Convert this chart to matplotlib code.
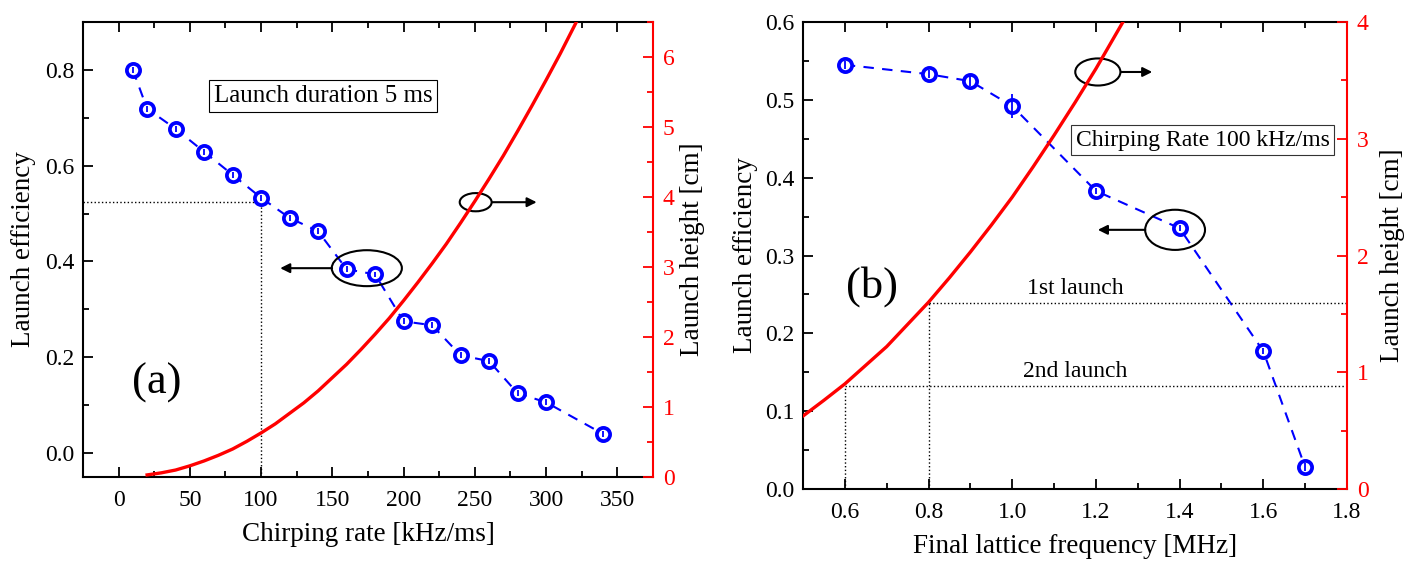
import numpy as np
import matplotlib
matplotlib.use("Agg")
from matplotlib import pyplot as plt
from matplotlib.patches import Ellipse
from matplotlib.ticker import MultipleLocator

plt.rcParams['font.family'] = ['Liberation Serif', 'DejaVu Serif']

# (a) launch efficiency vs chirping rate
chirp_rate = [10, 20, 40, 60, 80, 100, 120, 140, 160, 180, 200, 220, 240, 260, 280, 300, 340]
eff_a = [0.800, 0.719, 0.677, 0.629, 0.581, 0.533, 0.491, 0.463, 0.384, 0.373,
         0.275, 0.267, 0.204, 0.192, 0.125, 0.106, 0.040]
err_a = [0.006] * len(eff_a)
# (a) launch height curve
chirp_curve = [20, 30, 40, 50, 60, 70, 80, 90, 100, 110, 120, 130, 140, 150, 160, 170,
               180, 190, 200, 210, 220, 230, 240, 250, 260, 270, 280, 290, 300, 310,
               320, 330]
height_a = [0.03, 0.06, 0.10, 0.16, 0.23, 0.31, 0.40, 0.51, 0.63, 0.76, 0.91, 1.06,
            1.23, 1.42, 1.61, 1.82, 2.04, 2.27, 2.52, 2.78, 3.05, 3.33, 3.63, 3.94,
            4.26, 4.59, 4.94, 5.30, 5.67, 6.05, 6.45, 6.86]

# (b) launch efficiency vs final lattice frequency
freq = [0.6, 0.8, 0.9, 1.0, 1.2, 1.4, 1.6, 1.7]
eff_b = [0.545, 0.533, 0.524, 0.492, 0.383, 0.335, 0.177, 0.028]
err_b = [0.005, 0.005, 0.006, 0.015, 0.004, 0.004, 0.004, 0.005]
# (b) launch height curve
freq_curve = [0.5, 0.55, 0.6, 0.65, 0.7, 0.75, 0.8, 0.85, 0.9, 0.95, 1.0, 1.05, 1.1,
              1.15, 1.2, 1.25, 1.3]
height_b = [0.625, 0.76, 0.90, 1.06, 1.22, 1.41, 1.60, 1.81, 2.03, 2.26, 2.50, 2.76,
            3.03, 3.31, 3.60, 3.91, 4.22]

BLUE = '#0000ff'
RED = '#ff0000'


def style_axes(ax, ax2):
    for s in ['left', 'bottom', 'top']:
        ax.spines[s].set_linewidth(1.5)
    ax.spines['right'].set_visible(False)
    for s in ['left', 'bottom', 'top']:
        ax2.spines[s].set_visible(False)
    ax2.spines['right'].set_color(RED)
    ax2.spines['right'].set_linewidth(1.5)
    ax.tick_params(which='both', direction='in', top=True, right=False,
                   labelsize=17, width=1.3, pad=6)
    ax.tick_params(axis='x', which='both', pad=9.5)
    ax.tick_params(which='major', length=7)
    ax.tick_params(which='minor', length=4)
    ax2.tick_params(which='both', direction='in', colors=RED, labelsize=17,
                    width=1.3, pad=7)
    ax2.tick_params(which='major', length=7)
    ax2.tick_params(which='minor', length=4)


def plot_eff(ax, x, y, err):
    ax.plot(x, y, '--', color=BLUE, lw=1.5, dashes=(5, 4), zorder=3)
    ax.plot(x, y, 'o', ms=9.5, mfc='white', mec=BLUE, mew=2.7, zorder=4)
    ax.errorbar(x, y, yerr=err, fmt='none', ecolor=BLUE, elinewidth=1.3, zorder=5)


def mark(ax, cx, cy, w, h, x0, x1):
    ax.add_patch(Ellipse((cx, cy), w, h, transform=ax.transAxes, fill=False,
                         ec='k', lw=1.5, zorder=6))
    ax.annotate('', xy=(x1, cy), xytext=(x0, cy), xycoords='axes fraction',
                arrowprops=dict(arrowstyle='-|>', color='k', lw=1.5,
                                mutation_scale=14, shrinkA=0, shrinkB=0),
                zorder=6)


fig = plt.figure(figsize=(14.09, 5.63), dpi=100)

# ---- panel (a)
ax = fig.add_axes([0.0589, 0.1527, 0.4045, 0.8082])
ax2 = ax.twinx()
style_axes(ax, ax2)
plot_eff(ax, chirp_rate, eff_a, err_a)
ax2.plot(chirp_curve, height_a, color=RED, lw=2.4)
ax.plot([-25, 100], [0.525, 0.525], ':', color='k', lw=1)
ax.plot([100, 100], [-0.05, 0.525], ':', color='k', lw=1)
ax.set_xlim(-25, 375)
ax.set_ylim(-0.05, 0.9)
ax2.set_ylim(0, 6.5)
ax.xaxis.set_major_locator(MultipleLocator(50))
ax.xaxis.set_minor_locator(MultipleLocator(25))
ax.yaxis.set_major_locator(MultipleLocator(0.2))
ax.yaxis.set_minor_locator(MultipleLocator(0.1))
ax2.yaxis.set_major_locator(MultipleLocator(1))
ax2.yaxis.set_minor_locator(MultipleLocator(0.5))
ax.set_xlabel('Chirping rate [kHz/ms]', fontsize=19.5, labelpad=8)
ax.set_ylabel('Launch efficiency', fontsize=19.5, labelpad=7)
ax2.set_ylabel('Launch height [cm]', fontsize=19.5, labelpad=4)
ax.text(0.421, 0.837, 'Launch duration 5 ms', transform=ax.transAxes, fontsize=18,
        ha='center', va='center',
        bbox=dict(boxstyle='square,pad=0.2', fc='white', ec='k', lw=0.8))
ax.text(0.130, 0.207, '(a)', transform=ax.transAxes, fontsize=32,
        ha='center', va='center')
mark(ax, 0.498, 0.459, 0.123, 0.079, 0.437, 0.346)
mark(ax, 0.689, 0.604, 0.056, 0.040, 0.718, 0.796)

# ---- panel (b)
bx = fig.add_axes([0.5699, 0.1314, 0.3861, 0.8295])
bx2 = bx.twinx()
style_axes(bx, bx2)
plot_eff(bx, freq, eff_b, err_b)
bx2.plot(freq_curve, height_b, color=RED, lw=2.4)
bx2.plot([0.8, 1.8], [1.59, 1.59], ':', color='k', lw=1)
bx2.plot([0.8, 0.8], [0, 1.59], ':', color='k', lw=1)
bx2.plot([0.6, 1.8], [0.88, 0.88], ':', color='k', lw=1)
bx2.plot([0.6, 0.6], [0, 0.88], ':', color='k', lw=1)
bx2.text(1.15, 1.63, '1st launch', fontsize=17, ha='center', va='bottom')
bx2.text(1.15, 0.92, '2nd launch', fontsize=17, ha='center', va='bottom')
bx.set_xlim(0.5, 1.8)
bx.set_ylim(0, 0.6)
bx2.set_ylim(0, 4)
bx.xaxis.set_major_locator(MultipleLocator(0.2))
bx.xaxis.set_minor_locator(MultipleLocator(0.1))
bx.yaxis.set_major_locator(MultipleLocator(0.1))
bx.yaxis.set_minor_locator(MultipleLocator(0.05))
bx2.yaxis.set_major_locator(MultipleLocator(1))
bx2.yaxis.set_minor_locator(MultipleLocator(0.5))
bx.set_xlabel('Final lattice frequency [MHz]', fontsize=19.5, labelpad=8)
bx.set_ylabel('Launch efficiency', fontsize=19.5, labelpad=5)
bx2.set_ylabel('Launch height [cm]', fontsize=19.5, labelpad=8)
bx.text(0.735, 0.747, 'Chirping Rate 100 kHz/ms', transform=bx.transAxes, fontsize=17,
        ha='center', va='center', zorder=7,
        bbox=dict(boxstyle='square,pad=0.2', fc='white', ec='#333333', lw=0.8))
bx.text(0.127, 0.433, '(b)', transform=bx.transAxes, fontsize=32,
        ha='center', va='center')
mark(bx, 0.542, 0.893, 0.083, 0.058, 0.585, 0.642)
mark(bx, 0.684, 0.555, 0.110, 0.086, 0.629, 0.542)

fig.savefig('out.png', dpi=100)
